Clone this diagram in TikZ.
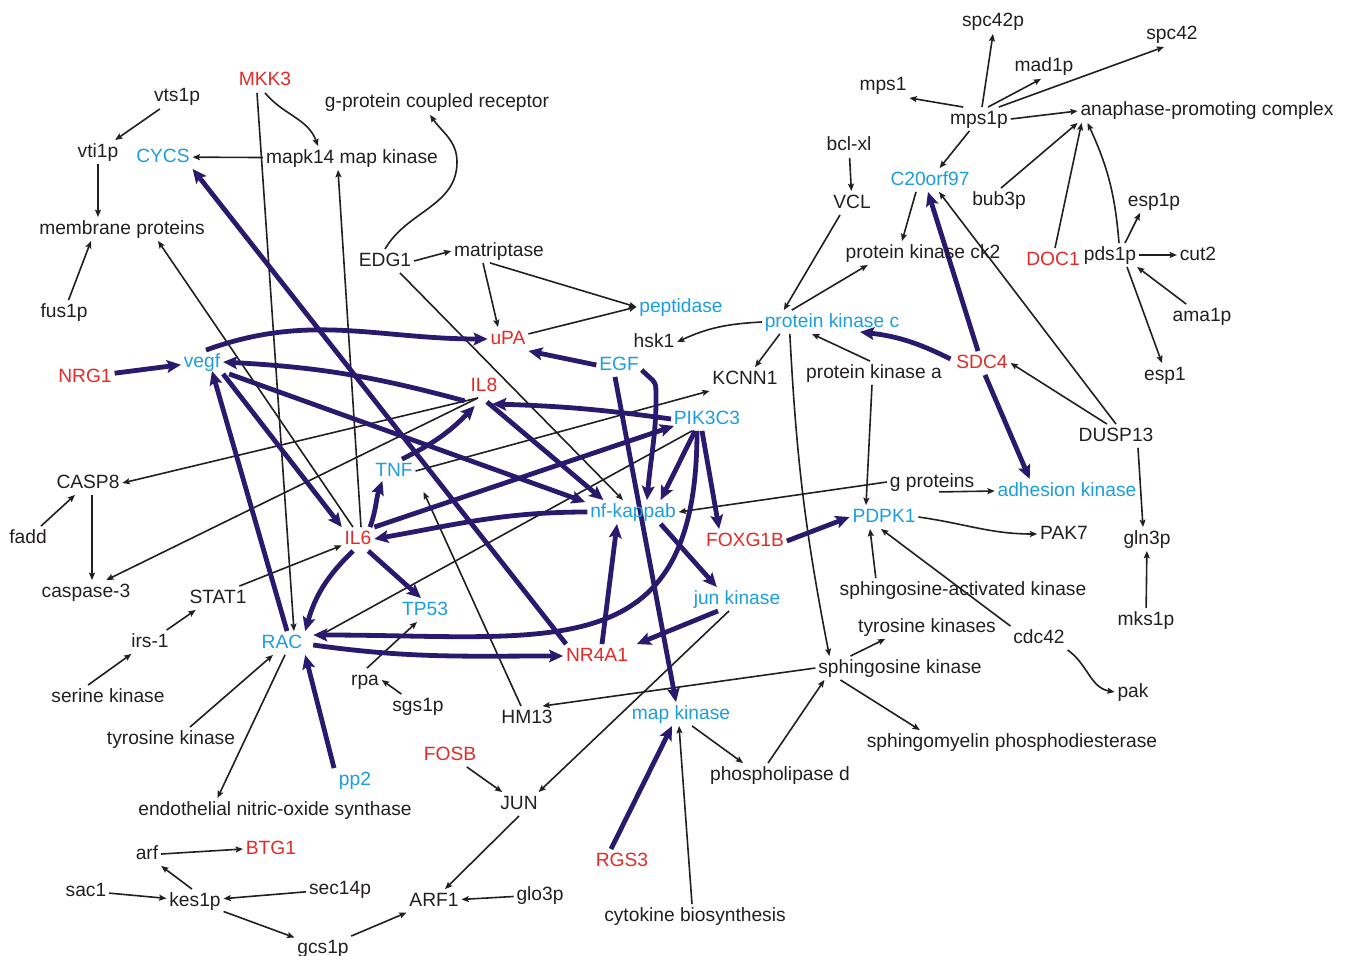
\documentclass[tikz,border=0pt]{standalone}
\usepackage{fontspec}
\setmainfont{Liberation Sans}
\usetikzlibrary{arrows.meta,calc}
\definecolor{txt}{RGB}{35,31,32}
\definecolor{redn}{RGB}{228,42,38}
\definecolor{bluen}{RGB}{28,158,222}
\definecolor{navy}{RGB}{42,26,110}
\pgfdeclarelayer{bg}
\pgfsetlayers{bg,main}
\begin{document}
\begin{tikzpicture}[x=0.75pt,y=0.75pt,
 lbl/.style={font=\fontsize{14.4pt}{16pt}\selectfont, text=txt, inner sep=2pt, text height=10.5pt, text depth=3pt, yshift=-1.5pt},
 rn/.style={lbl,text=redn},
 bn/.style={lbl,text=bluen},
 tn/.style={draw=txt, line width=1.2pt, -{Stealth[length=5.5pt,width=4.5pt,inset=1pt]}},
 tk/.style={draw=navy, line width=3.6pt, -{Stealth[length=10.5pt,width=9.5pt,inset=2pt]}},
]
\useasboundingbox (0,0) rectangle (1346,-956);
% ---------------- nodes
\node[lbl] (vts) at (177,-95) {vts1p};
\node[lbl] (vti) at (98,-150) {vti1p};
\node[bn] (cycs) at (163,-155) {CYCS};
\node[rn] (mkk3) at (265,-79) {MKK3};
\node[lbl] (mapk) at (352,-156) {mapk14 map kinase};
\node[lbl] (gpcr) at (437,-101) {g-protein coupled receptor};
\node[lbl] (memb) at (122,-227) {membrane proteins};
\node[lbl] (fus) at (64,-310) {fus1p};
\node[lbl] (edg) at (385,-259) {EDG1};
\node[lbl] (matr) at (499,-249) {matriptase};
\node[bn] (pept) at (681,-305) {peptidase};
\node[rn] (upa) at (508,-337) {uPA};
\node[lbl] (hsk) at (654,-340) {hsk1};
\node[bn] (pkc) at (832,-320) {protein kinase c};
\node[rn] (nrg) at (85,-375) {NRG1};
\node[bn] (vegf) at (202,-360) {vegf};
\node[rn] (il8) at (484,-384) {IL8};
\node[bn] (egf) at (619,-363) {EGF};
\node[lbl] (kcnn) at (745,-377) {KCNN1};
\node[bn] (pik) at (707,-417) {PIK3C3};
\node[bn] (tnf) at (394,-469) {TNF};
\node[lbl] (casp8) at (88,-481) {CASP8};
\node[lbl] (fadd) at (28,-536) {fadd};
\node[rn] (il6) at (358,-537) {IL6};
\node[bn] (nfkb) at (633,-510) {nf-kappab};
\node[rn] (foxg) at (745,-539) {FOXG1B};
\node[lbl] (casp3) at (86,-590) {caspase-3};
\node[lbl] (stat) at (218,-596) {STAT1};
\node[bn] (tp53) at (425,-608) {TP53};
\node[bn] (junk) at (737,-597) {jun kinase};
\node[bn] (rac) at (282,-641) {RAC};
\node[lbl] (irs) at (150,-640) {irs-1};
\node[rn] (nr4) at (597,-654) {NR4A1};
\node[lbl] (rpa) at (365,-678) {rpa};
\node[lbl] (sgs) at (418,-704) {sgs1p};
\node[lbl] (serk) at (108,-695) {serine kinase};
\node[lbl] (hm13) at (527,-716) {HM13};
\node[bn] (mapkin) at (681,-712) {map kinase};
\node[lbl] (tyrk) at (171,-737) {tyrosine kinase};
\node[rn] (fosb) at (450,-753) {FOSB};
\node[bn] (pp2) at (355,-778) {pp2};
\node[lbl] (pld) at (780,-773) {phospholipase d};
\node[lbl] (jun) at (519,-802) {JUN};
\node[lbl] (enos) at (275,-808) {endothelial nitric-oxide synthase};
\node[lbl] (arf) at (147,-852) {arf};
\node[rn] (btg) at (271,-847) {BTG1};
\node[rn] (rgs) at (622,-859) {RGS3};
\node[lbl] (sac) at (86,-889) {sac1};
\node[lbl] (sec) at (340,-887) {sec14p};
\node[lbl] (kes) at (195,-899) {kes1p};
\node[lbl] (arf1) at (434,-899) {ARF1};
\node[lbl] (glo) at (540,-893) {glo3p};
\node[lbl] (cyto) at (695,-914) {cytokine biosynthesis};
\node[lbl] (gcs) at (323,-946) {gcs1p};
\node[lbl] (spc42p) at (993,-20) {spc42p};
\node[lbl] (spc42) at (1172,-33) {spc42};
\node[lbl] (mad) at (1044,-65) {mad1p};
\node[lbl] (mps1) at (883,-84) {mps1};
\node[lbl] (mps1p) at (979,-117) {mps1p};
\node[lbl] (apc) at (1207,-109) {anaphase-promoting complex};
\node[lbl] (bcl) at (849,-144) {bcl-xl};
\node[bn] (c20) at (930,-178) {C20orf97};
\node[lbl] (vcl) at (852,-201) {VCL};
\node[lbl] (bub) at (999,-198) {bub3p};
\node[lbl] (esp1p) at (1154,-199) {esp1p};
\node[lbl] (ck2) at (923,-251) {protein kinase ck2};
\node[rn] (doc) at (1053,-258) {DOC1};
\node[lbl] (pds) at (1110,-253) {pds1p};
\node[lbl] (cut) at (1198,-253) {cut2};
\node[lbl] (ama) at (1202,-314) {ama1p};
\node[rn] (sdc) at (982,-361) {SDC4};
\node[lbl] (pka) at (874,-371) {protein kinase a};
\node[lbl] (esp1) at (1165,-373) {esp1};
\node[lbl] (dusp) at (1116,-434) {DUSP13};
\node[lbl] (gprot) at (932,-480) {g proteins};
\node[bn] (adh) at (1067,-489) {adhesion kinase};
\node[bn] (pdpk) at (884,-515) {PDPK1};
\node[lbl] (pak7) at (1064,-532) {PAK7};
\node[lbl] (gln) at (1147,-537) {gln3p};
\node[lbl] (sak) at (963,-588) {sphingosine-activated kinase};
\node[lbl] (mks) at (1146,-618) {mks1p};
\node[lbl] (tyrks) at (927,-625) {tyrosine kinases};
\node[lbl] (cdc) at (1039,-636) {cdc42};
\node[lbl] (sphk) at (900,-666) {sphingosine kinase};
\node[lbl] (pak) at (1133,-690) {pak};
\node[lbl] (smpd) at (1012,-740) {sphingomyelin phosphodiesterase};
\coordinate (edgmid) at (457,-162);
% ---------------- connectors
\begin{pgfonlayer}{bg}
% thin
\draw[tn] (vts) -- (vti);
\draw[tn] (vti.south) -- (vti.south |- memb.north);
\draw[tn] (fus) -- ($(memb.south)+(-31,0)$);
\draw[tn] (mapk) -- (cycs);
\draw[tn] (mkk3.south) to[out=-50,in=110] ($(mapk.north)+(-34,0)$);
\draw[tn] ($(mkk3.south)+(-8,0)$) -- ($(rac.north)+(12,0)$);
\draw[tn] ($(il6.north)+(3,0)$) -- ($(mapk.south)+(-14,0)$);
\draw[tn] ($(il6.north)+(-5,0)$) -- ($(memb.south)+(36,0)$);
\draw[tn] (edg.north) to[out=60,in=-90] (edgmid) to[out=90,in=-55] ($(gpcr.south)+(-7,0)$);
\draw[tn] (edg.east) -- (matr.west);
\draw[tn] ($(edg.south)+(15,0)$) -- ($(nfkb.north)+(-10,0)$);
\draw[tn] ($(matr.south)+(-16,0)$) -- ($(upa.north)+(-10,0)$);
\draw[tn] ($(matr.south)+(-9,0)$) -- (pept.west);
\draw[tn] (upa) -- (pept.west);
\draw[tn] (pkc.west) to[out=183,in=25] (hsk.east);
\draw[tn] ($(pkc.south west)+(18,0)$) -- ($(kcnn.north)+(10,0)$);
\draw[tn] ($(vcl.south)+(-12,0)$) -- ($(pkc.north west)+(22,0)$);
\draw[tn] ($(pkc.north west)+(30,0)$) -- ($(ck2.south west)+(25,0)$);
\draw[tn] ($(c20.south)+(-14,0)$) -- ($(ck2.north)+(-21,0)$);
\draw[tn] (mps1p) -- (c20);
\draw[tn] (dusp.north) -- ($(c20.south)+(9,0)$);
\draw[tn] ($(dusp.north)+(-9,0)$) -- (sdc.east);
\draw[tn] ($(dusp.south)+(22,0)$) -- ($(gln.north)+(-4,0)$);
\draw[tn] (mks) -- (gln);
\draw[tn] ($(pds.south)+(17,0)$) -- ($(esp1.north)+(-3,0)$);
\draw[tn] (ama) -- ($(pds.south east)+(-2,0)$);
\draw[tn] ($(pds.north)+(15,0)$) -- ($(esp1p.south)+(-14,0)$);
\draw[tn] (pds) -- (cut);
\draw[tn] ($(pds.north)+(9,0)$) to[bend right=10] ($(apc.south west)+(10,0)$);
\draw[tn] ($(doc.north)+(2,0)$) -- ($(apc.south west)+(4,0)$);
\draw[tn] ($(bub.north)+(2,0)$) -- (apc.south west);
\draw[tn] (mps1p.east) -- (apc.west);
\draw[tn] ($(mps1p.north)+(3,0)$) -- (spc42p.south);
\draw[tn] ($(mps1p.north)+(9,0)$) -- ($(mad.south)+(-3,0)$);
\draw[tn] ($(mps1p.north east)+(-12,0)$) -- ($(spc42.south)+(-8,0)$);
\draw[tn] ($(mps1p.north west)+(16,0)$) -- (mps1.south east);
\draw[tn] (bcl) -- (vcl);
\draw[tn] ($(pka.north)+(-4,0)$) -- ($(pkc.south)+(-20,0)$);
\draw[tn] ($(pka.south)+(-2,0)$) -- ($(pdpk.north)+(-18,0)$);
\draw[tn] ($(pkc.south west)+(28,0)$) to[bend right=4] ($(sphk.north west)+(14,0)$);
\draw[tn] (gprot.west) -- (nfkb.east);
\draw[tn] ($(gprot.south)+(7,2)$) -- (adh.west);
\draw[tn] (pdpk.east) to[out=-8,in=180] (pak7.west);
\draw[tn] ($(sak.north west)+(39,0)$) -- ($(pdpk.south)+(-14,0)$);
\draw[tn] (cdc.north west) -- ($(pdpk.south)+(-3,0)$);
\draw[tn] (cdc.south east) to[out=-35,in=170] (pak.west);
\draw[tn] ($(sphk.north west)+(35,0)$) -- ($(tyrks.south west)+(30,0)$);
\draw[tn] ($(sphk.south west)+(25,0)$) -- ($(smpd.north west)+(56,0)$);
\draw[tn] ($(pld.north)+(-12,0)$) -- ($(sphk.south west)+(9,0)$);
\draw[tn] (sphk.west) -- ($(hm13.north east)+(-13,0)$);
\draw[tn] ($(mapkin.south)+(11,0)$) -- ($(pld.north west)+(36,0)$);
\draw[tn] ($(cyto.north)+(-3,0)$) -- ($(mapkin.south)+(-2,0)$);
\draw[tn] ($(junk.south)+(-8,0)$) -- ($(jun.north east)+(-2,0)$);
\draw[tn] (fosb) -- (jun);
\draw[tn] (jun.south) -- ($(arf1.north)+(11,0)$);
\draw[tn] (glo) -- (arf1);
\draw[tn] (gcs) -- (arf1);
\draw[tn] (kes) -- (gcs);
\draw[tn] (sec) -- (kes);
\draw[tn] (sac) -- (kes);
\draw[tn] ($(kes.north)+(-3,0)$) -- (arf.south east);
\draw[tn] (arf.east) -- (btg.west);
\draw[tn] ($(rac.south)+(3,0)$) -- ($(enos.north west)+(82,0)$);
\draw[tn] ($(tyrk.north)+(19,0)$) -- ($(rac.south)+(-9,0)$);
\draw[tn] ($(serk.north)+(-20,0)$) -- ($(irs.south west)+(3,0)$);
\draw[tn] ($(irs.north east)+(-5,0)$) -- ($(stat.south west)+(9,0)$);
\draw[tn] ($(stat.north east)+(-10,0)$) -- (il6);
\draw[tn] (fadd) -- (casp8);
\draw[tn] ($(casp8.south)+(4,0)$) -- ($(casp3.north)+(6,0)$);
\draw[tn] ($(il8.south)+(-6,0)$) -- (casp8.east);
\draw[tn] ($(il8.south)+(-6,0)$) -- ($(casp3.north east)+(-27,0)$);
\draw[tn] (tnf.east) -- (kcnn.south west);
\draw[tn] ($(hm13.north)+(-6,0)$) -- ($(tnf.south east)+(8,-9)$);
\draw[tn] ($(pik.south west)+(21,0)$) -- ($(rac.east)+(12,6)$);
\draw[tn] ($(rpa.north)+(2,0)$) -- ($(tp53.south)+(-8,0)$);
\draw[tn] (sgs) -- (rpa.east);
% thick
\draw[tk] (nrg) -- (vegf);
\draw[tk] ($(vegf.north)+(4,0)$) to[out=20,in=180] (upa.west);
\draw[tk] ($(il8.south west)+(-3,-3)$) to[bend right=6] (vegf.east);
\draw[tk] (vegf.south east) -- (il6.north west);
\draw[tk] ($(vegf.south east)+(6,0)$) -- ($(nfkb.north west)+(-2,-2)$);
\draw[tk] ($(rac.north)+(5,0)$) -- ($(vegf.south)+(10,3)$);
\draw[tk] ($(nr4.north west)+(3,0)$) -- (cycs.south east);
\draw[tk] (egf.west) -- (upa.south east);
\draw[tk, rounded corners=3pt] ($(egf.east)+(0,-5)$) -- ++(14,-13) to[out=-88,in=85] ($(nfkb.north)+(14,0)$);
\draw[tk] ($(egf.south)+(-4,0)$) -- ($(mapkin.north)+(-5,0)$);
\draw[tk] (pik.west) to[bend right=3] ($(il8.south east)+(-8,-6)$);
\draw[tk] ($(il8.south)+(3,-4)$) -- ($(nfkb.north west)+(16,0)$);
\draw[tk] ($(tnf.north)+(8,0)$) to[bend right=10] ($(il8.south west)+(7,-8)$);
\draw[tk] ($(il6.north)+(12,0)$) to[out=70,in=-110] ($(tnf.south west)+(10,2)$);
\draw[tk] (il6.north east) -- ($(pik.south west)+(3,5)$);
\draw[tk] (nfkb.west) to[out=180,in=10] (il6.east);
\draw[tk] ($(il6.south east)+(-6,0)$) -- ($(tp53.north)+(-4,0)$);
\draw[tk] ($(il6.south)+(-5,0)$) to[bend right=15] (rac.north east);
\draw[tk] ($(pik.south)+(-12,0)$) -- ($(nfkb.north east)+(-18,0)$);
\draw[tk] ($(pik.south)+(-5,0)$) -- ($(foxg.north west)+(16,0)$);
\draw[tk] ($(pik.south)+(-10,0)$) to[out=-90,in=0,looseness=1.4] ($(rac.east)+(8,8)$);
\draw[tk] ($(rac.east)+(8,-2)$) to[out=-8,in=180] (nr4.west);
\draw[tk] ($(nr4.north)+(5,0)$) -- ($(nfkb.south)+(-16,0)$);
\draw[tk] ($(nfkb.south east)+(-18,0)$) -- ($(junk.north west)+(26,0)$);
\draw[tk] ($(junk.south)+(-19,0)$) -- ($(nr4.north east)+(6,0)$);
\draw[tk] (foxg.east) -- (pdpk.west);
\draw[tk] ($(pp2.north west)+(-2,0)$) -- (rac.south east);
\draw[tk] ($(rgs.north)+(-11,0)$) -- ($(mapkin.south)+(-9,0)$);
\draw[tk] ($(sdc.west)+(-3,4)$) to[bend right=10] ($(pkc.south)+(28,2)$);
\draw[tk] ($(sdc.north)+(-4,0)$) -- ($(c20.south)+(-2,0)$);
\draw[tk] ($(sdc.south)+(3,0)$) -- ($(adh.north west)+(35,0)$);
\end{pgfonlayer}
\end{tikzpicture}
\end{document}
